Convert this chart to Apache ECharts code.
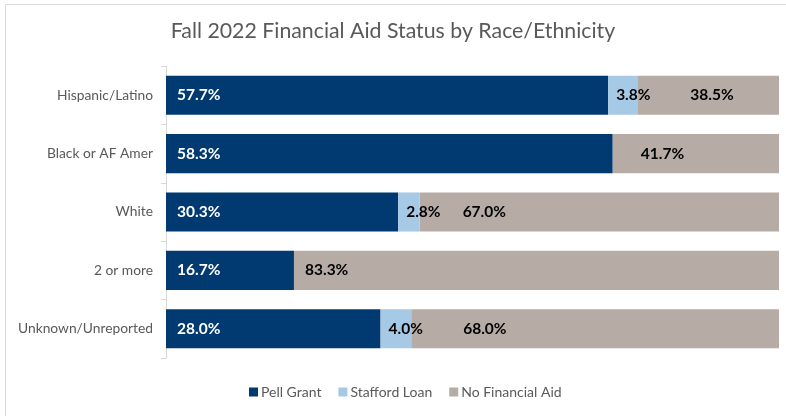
<!DOCTYPE html>
<html><head><meta charset="utf-8">
<script src="https://cdn.jsdelivr.net/npm/echarts@6/dist/echarts.min.js"></script>
<style>html,body{margin:0;padding:0;background:#fff;}#c{width:786px;height:416px;}</style>
</head><body><div id="c"></div>
<script>
const categories = ['Hispanic/Latino', 'Black or AF Amer', 'White', '2 or more', 'Unknown/Unreported'];
const pellGrant = [57.7, 58.3, 30.3, 16.7, 28.0];
const staffordLoan = [3.8, 0, 2.8, 0, 4.0];
const noFinancialAid = [38.5, 41.7, 67.0, 83.3, 68.0];
const seriesNames = ['Pell Grant', 'Stafford Loan', 'No Financial Aid'];

const chart = echarts.init(document.getElementById('c'));
const font = 'Lato, "Noto Sans", sans-serif';
// label distance from the segment start for the "No Financial Aid" labels (styling)
const naDist = [53, 28, 43, 11, 52];

function fmt(p){ return p.value > 0 ? p.value.toFixed(1) + '%' : ''; }

chart.setOption({
  animation: false,
  textStyle: { fontFamily: font },
  title: {
    text: 'Fall 2022 Financial Aid Status by Race/Ethnicity',
    left: 'center', top: 16,
    textStyle: { fontFamily: font, fontSize: 21.3, fontWeight: 'normal', color: '#595959' }
  },
  graphic: [{ type: 'rect', shape: { x: 5.5, y: 4.5, width: 900, height: 600 }, style: { fill: 'none', stroke: '#D9D9D9', lineWidth: 1 }, silent: true }],
  legend: {
    bottom: 12, left: 244, itemWidth: 9, itemHeight: 9, itemGap: 17,
    icon: 'rect',
    textStyle: { fontFamily: font, fontSize: 14, color: '#595959', padding: [0, 0, 0, -2] },
    data: seriesNames
  },
  grid: { left: 166, right: 7, top: 66, bottom: 58, containLabel: false },
  xAxis: { type: 'value', min: 0, max: 80, show: false },
  yAxis: {
    type: 'category', data: categories, inverse: true,
    axisLine: { lineStyle: { color: '#D9D9D9' } },
    axisTick: { show: true, length: 5, lineStyle: { color: '#D9D9D9' } },
    axisLabel: { fontFamily: font, fontSize: 13.8, color: '#595959', margin: 13 }
  },
  series: [
    {
      name: seriesNames[0], type: 'bar', stack: 'a', barCategoryGap: '33%', clip: true,
      itemStyle: { color: '#003A70' },
      label: { show: true, position: 'insideLeft', distance: 11, color: '#fff', fontWeight: 'bold', fontSize: 15.5, fontFamily: font, formatter: fmt },
      data: pellGrant
    },
    {
      name: seriesNames[1], type: 'bar', stack: 'a', clip: true,
      itemStyle: { color: '#A6C9E5' },
      label: { show: true, position: 'insideLeft', distance: 8, color: '#000', fontWeight: 'bold', fontSize: 15.5, fontFamily: font, formatter: fmt, overflow: 'none' },
      z: 3,
      data: staffordLoan
    },
    {
      name: seriesNames[2], type: 'bar', stack: 'a', clip: true,
      itemStyle: { color: '#B6ACA5' },
      data: noFinancialAid.map((v, i) => ({
        value: v,
        label: { show: true, position: 'insideLeft', distance: naDist[i], color: '#000', fontWeight: 'bold', fontSize: 15.5, fontFamily: font, formatter: fmt }
      }))
    }
  ]
});
</script></body></html>
